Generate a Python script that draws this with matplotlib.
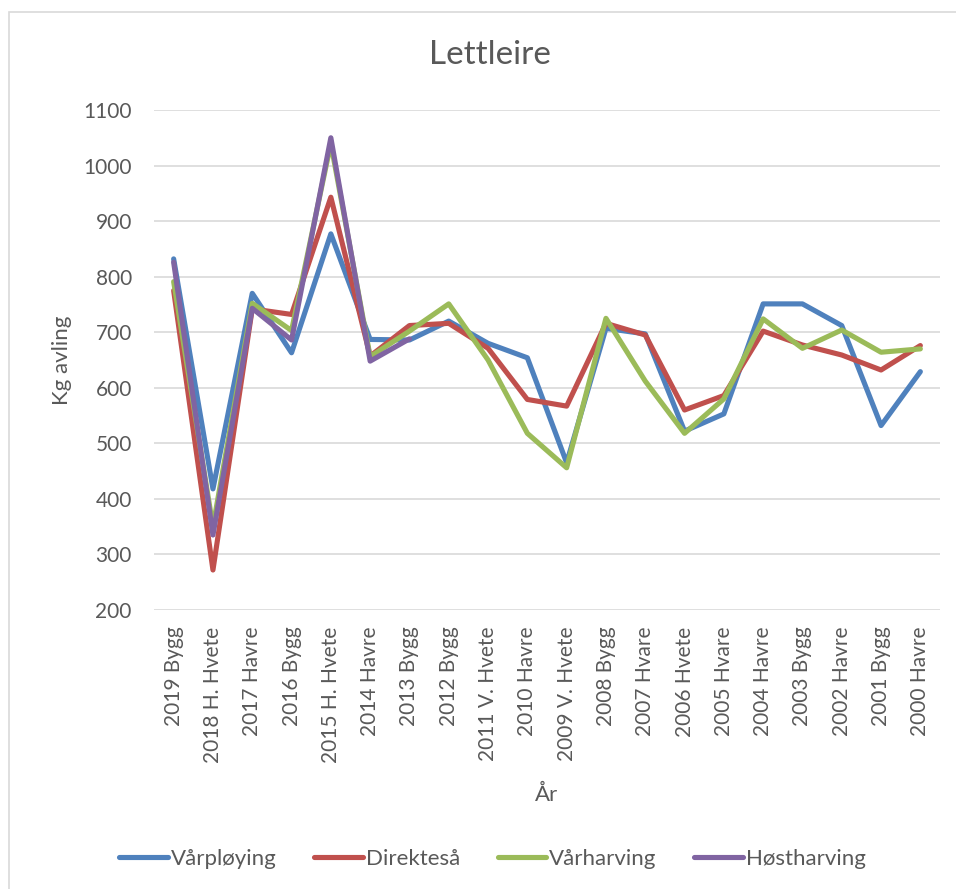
import numpy as np
import matplotlib
matplotlib.use("Agg")
import matplotlib.pyplot as plt
from matplotlib.patches import Rectangle

plt.rcParams['font.family'] = ['Lato', 'DejaVu Sans']

# data
categories = ["2019 Bygg", "2018 H. Hvete", "2017 Havre", "2016 Bygg", "2015 H. Hvete",
              "2014 Havre", "2013 Bygg", "2012 Bygg", "2011 V. Hvete", "2010 Havre",
              "2009 V. Hvete", "2008 Bygg", "2007 Hvare", "2006 Hvete", "2005 Hvare",
              "2004 Havre", "2003 Bygg", "2002 Havre", "2001 Bygg", "2000 Havre"]
varploying = [832, 418, 770, 663, 877, 687, 686, 720, 680, 654,
              465, 707, 697, 522, 553, 751, 751, 712, 532, 629]
direktesa = [775, 272, 742, 732, 943, 657, 712, 716, 671, 579,
             567, 716, 695, 560, 586, 702, 677, 659, 632, 676]
varharving = [791, 350, 752, 703, 1040, 656, 702, 751, 650, 518,
              456, 725, 612, 518, 580, 724, 671, 704, 664, 670]
hostharving = [826, 335, 743, 686, 1050, 648, 688]

series = [("Vårpløying", varploying, "#4F81BD"),
          ("Direkteså", direktesa, "#C0504D"),
          ("Vårharving", varharving, "#9BBB59"),
          ("Høstharving", hostharving, "#8064A2")]

txt = "#595959"
grid = "#d9d9d9"

fig = plt.figure(figsize=(9.56, 8.89), dpi=100)
ax = fig.add_axes([154/956, 1-610/889, (940-154)/956, 500/889])

x = np.arange(len(categories))
for name, vals, col in series:
    ax.plot(x[:len(vals)], vals, color=col, lw=3.7, label=name,
            solid_joinstyle='round', solid_capstyle='round')

ax.set_xlim(-0.5, len(categories) - 0.5)
ax.set_ylim(200, 1100)
ax.set_yticks(np.arange(200, 1101, 100))
ax.set_xticks(x)
ax.set_xticklabels(categories, rotation=90, fontsize=15, color=txt)
ax.tick_params(axis='y', labelsize=15, labelcolor=txt, length=0, pad=16)
ax.tick_params(axis='x', length=0, pad=12)
ax.grid(axis='y', color=grid, lw=1.2)
ax.set_axisbelow(True)
for s in ax.spines.values():
    s.set_visible(False)

ax.set_ylabel("Kg avling", fontsize=16, color=txt, labelpad=8)
ax.set_xlabel("År", fontsize=16, color=txt, labelpad=16)
fig.text(0.512, 1-55/889, "Lettleire", ha='center', va='center', fontsize=24, color=txt)

fig.legend(loc='center', bbox_to_anchor=(0.515, 1-859/889), ncol=4, frameon=False,
           fontsize=16, handlelength=2.2, handletextpad=0.12, columnspacing=1.7,
           labelcolor=txt)

fig.patches.append(Rectangle((9/956, -0.1), 1.2, 1-12/889+0.1, transform=fig.transFigure,
                             fill=False, edgecolor=grid, lw=1.2))

fig.savefig("out.png", dpi=100)
